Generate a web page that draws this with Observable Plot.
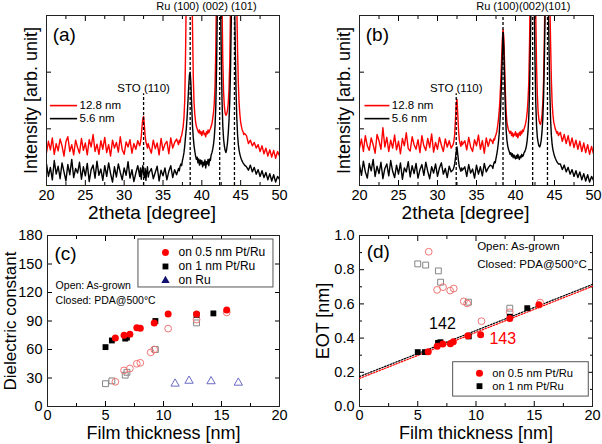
<!DOCTYPE html>
<html><head><meta charset="utf-8">
<script src="https://cdn.jsdelivr.net/npm/d3@7"></script>
<script src="https://cdn.jsdelivr.net/npm/@observablehq/plot@0.6"></script>
<style>
body{margin:0;background:#fff;}
#wrap{position:relative;width:602px;height:444px;overflow:hidden;background:#fff;}
.panel{position:absolute;}
.panel svg{overflow:visible;display:block;}
</style></head><body><div id="wrap"></div>
<script>
// ---------- XRD data (2theta grid shared by all four spectra) ----------
const twoTheta = [
20,20.25,20.5,20.75,21,21.25,21.5,21.75,22,22.25,22.5,22.75,23,23.25,23.5,23.75,24,24.25,24.5,24.75,25,25.25,25.5,25.75,26,26.25,26.5,26.75,27,27.25,27.5,27.75,28,28.25,28.5,28.75,29,29.25,29.5,29.75,30,30.25,30.5,30.75,31,31.25,31.5,31.75,
32,32.1,32.2,32.3,32.4,32.5,32.6,32.7,32.8,32.9,33,33.1,33.2,
33.5,33.75,34,34.25,34.5,34.75,35,35.25,35.5,35.75,36,36.25,36.5,36.75,
37,37.1,37.2,37.3,37.4,37.5,37.6,37.7,37.8,37.9,38,38.1,38.2,38.3,38.4,38.5,38.6,38.7,38.8,38.9,39,39.1,39.2,39.3,39.4,39.5,39.6,39.7,39.8,39.9,40,40.1,40.2,40.3,40.4,40.5,40.6,40.7,40.8,40.9,41,41.1,41.2,41.3,41.4,41.5,41.6,41.7,41.8,41.9,42,42.1,42.2,42.3,42.4,42.5,42.6,42.7,42.8,42.9,43,43.1,43.2,43.3,43.4,43.5,43.6,43.7,43.8,43.9,44,44.1,44.2,44.3,44.4,44.5,44.6,44.7,44.8,44.9,45,45.1,45.2,45.3,45.4,45.5,
45.75,46,46.25,46.5,46.75,47,47.25,47.5,47.75,48,48.25,48.5,48.75,49,49.25,49.5,49.75,50];

// panel (a): as-grown
const redA = [
58,78,63,84,55,74,61,82,70,52,77,86,60,72,54,80,67,57,83,62,75,54,81,68,90,60,73,55,79,64,85,58,72,52,80,66,76,59,86,63,55,77,68,81,57,74,64,79,
70,76,86,104,118,122,106,88,77,72,66,74,69,
57,80,65,75,54,83,62,73,78,56,84,66,76,82,
72,80,76,85,88,96,104,120,150,230,
340,380,400,420,430,430,420,380,280,190,
145,125,112,104,100,96,93,98,91,95,
88,94,97,90,92,86,95,91,98,93,
97,100,104,109,118,128,145,175,240,360,
420,440,450,450,440,400,320,220,165,140,
128,124,126,132,145,170,220,320,400,440,
450,450,440,420,380,320,240,180,145,125,
112,104,98,95,90,92,
88,74,80,70,76,66,72,60,70,56,66,52,63,50,62,48,60,52];
const blackA = [
38,16,32,10,44,20,34,12,40,24,8,37,19,46,14,30,22,41,11,33,17,39,7,28,36,13,43,18,29,9,35,16,40,21,6,33,15,38,23,10,31,18,42,13,28,7,22,35,
16,31,11,26,35,20,14,30,9,24,33,15,22,
30,12,23,34,8,27,17,31,10,25,35,14,28,19,
30,26,34,38,35,44,50,58,70,86,
100,120,145,172,195,200,178,140,105,84,
70,60,52,46,50,40,47,36,45,38,
44,33,41,36,45,31,42,38,46,35,
47,44,54,58,64,72,85,105,140,210,
320,400,430,420,340,230,150,105,82,70,
62,58,64,75,92,115,150,210,300,380,
420,410,340,250,170,120,90,72,62,55,
50,46,43,40,38,36,
33,27,36,24,32,20,28,16,26,14,23,10,21,8,19,6,16,11];

// panel (b): after PDA
const redB = [
66,82,60,88,70,62,84,72,57,90,79,64,102,68,85,60,80,66,89,63,78,56,83,70,93,65,61,86,72,64,81,58,88,70,62,83,67,91,59,76,64,85,71,60,82,68,79,66,
72,78,90,115,145,152,125,96,80,74,69,78,72,
79,63,85,68,60,81,70,89,64,79,57,84,69,82,
78,74,82,80,86,90,95,104,115,130,
150,180,215,255,275,262,215,165,130,112,
104,98,95,92,96,88,93,86,91,89,
95,87,92,84,90,94,88,96,91,98,
95,100,104,110,118,130,150,180,250,360,
420,450,460,455,430,380,300,210,160,130,
116,110,108,114,125,145,185,260,360,420,
450,455,440,400,330,250,185,145,125,112,
106,100,96,92,95,88,
94,78,90,74,88,70,84,67,80,64,78,60,75,58,72,55,69,56];
const blackB = [
37,18,43,24,13,39,26,46,16,34,21,41,12,30,38,17,44,25,14,36,20,40,11,31,24,42,15,35,21,39,13,28,37,18,41,25,12,33,22,38,16,31,40,20,30,14,34,24,
28,32,38,48,60,68,55,42,33,29,25,31,27,
33,16,37,22,29,13,36,20,33,17,39,24,31,36,
34,30,38,42,40,48,55,64,75,90,
112,140,180,225,270,245,185,135,98,80,
70,64,60,55,58,52,56,49,54,50,
47,53,48,55,50,46,52,49,55,51,
53,58,60,64,70,80,95,120,165,240,
330,400,420,400,320,220,145,105,85,76,
70,68,72,80,95,118,155,220,310,380,
410,400,330,240,165,115,88,72,63,57,
52,48,45,42,40,38,
38,28,36,24,32,20,28,16,26,14,24,10,21,8,19,6,16,9];

const xrdSeriesNames = ["12.8 nm", "5.6 nm"];
const ruPeaksA = [38.5, 42.3, 44.2];
const ruPeaksB = [38.4, 42.2, 44.1];
const stoPeakA = 32.5;
const stoPeakB = 32.4;

// ---------- (c) dielectric constant vs thickness ----------
const dkPdaPt05 = [[5.85,72],[6.6,75],[7.1,76],[7.7,83],[8.0,82.5],[9.2,88],[10.4,97.5],[12.85,97.5],[15.45,101.5]];
const dkPdaPt1 = [[5.0,62.5],[5.55,69.5],[6.7,71.5],[6.85,72.5],[9.3,90],[12.85,96.5],[14.3,98]];
const dkAsPt05 = [[5.85,26],[6.6,38],[7.1,40],[7.7,45],[8.0,46],[8.9,57],[9.2,60],[10.4,82],[12.85,91.5],[15.45,99]];
const dkAsPt1 = [[5.0,24],[5.55,27],[6.7,33],[6.85,36],[9.3,60],[12.85,88]];
const dkAsRu = [[11.0,24],[12.2,27],[14.1,26.5],[16.45,25]];

// ---------- (d) EOT vs thickness ----------
const eotPdaPt05 = [[5.9,0.32],[6.67,0.352],[7.15,0.365],[7.8,0.367],[8.05,0.378],[9.3,0.414],[10.4,0.42],[12.9,0.515],[15.4,0.595]];
const eotPdaPt1 = [[5.0,0.318],[5.62,0.318],[6.74,0.372],[6.95,0.376],[9.38,0.41],[12.9,0.525],[14.4,0.575]];
const eotAsPt05 = [[5.94,0.905],[6.66,0.682],[7.17,0.698],[7.78,0.678],[8.09,0.69],[8.95,0.615],[9.24,0.603],[10.47,0.499],[12.9,0.551],[15.5,0.608]];
const eotAsPt1 = [[5.0,0.834],[5.68,0.827],[6.77,0.793],[6.96,0.727],[9.35,0.61],[12.9,0.575]];
const fitPt1 = [[0,0.175],[20,0.714]];
const fitPt05 = [[0,0.164],[20,0.703]];
const kLabels = ["142", "143"];
const legendNames = ["on 0.5 nm Pt/Ru", "on 1 nm Pt/Ru", "on Ru"];

// ---------- helpers ----------
const FONT = "'Liberation Sans', Arial, sans-serif";
const RED = "#ff0000";
const OPEN_RED = "#f07575";
const OPEN_GRAY = "#858585";
const OPEN_BLUE = "#6a6ac4";
const blank = () => "";

function spectrum(vals) {
  const n = Math.min(vals.length, twoTheta.length);
  return d3.range(n).map(i => ({t: twoTheta[i], v: vals[i]}));
}
const pts = arr => arr.map(([x, y]) => ({x, y}));

// inward ticks: normal outward ticks shifted inside the frame by their own length
function frameTicks(xMaj, xMin, yMaj, yMin) {
  const m = [];
  const add = (fn, anchor, ticks, len) => {
    const sh = anchor === "bottom" ? {dy: -len} : anchor === "top" ? {dy: len} : anchor === "left" ? {dx: len} : {dx: -len};
    m.push(fn({anchor, ticks, tickSize: len, tickFormat: blank, label: null, ...sh}));
  };
  for (const a of ["bottom", "top"]) { add(Plot.axisX, a, xMaj, 5); if (xMin) add(Plot.axisX, a, xMin, 3); }
  for (const a of ["left", "right"]) { add(Plot.axisY, a, yMaj, 5); if (yMin) add(Plot.axisY, a, yMin, 3); }
  return m;
}

const baseStyle = {fontFamily: FONT, fontSize: "14.5px", color: "#000", background: "transparent", overflow: "visible"};

function xrdPanel(o) {
  return Plot.plot({
    width: o.width, height: 222,
    marginLeft: o.ml, marginRight: o.mr, marginTop: 15, marginBottom: 37,
    x: {domain: [20, 50]}, y: {domain: [0, 300]},
    style: baseStyle,
    marks: [
      Plot.line(spectrum(o.red), {x: "t", y: "v", stroke: RED, strokeWidth: 1.4, clip: true}),
      Plot.line(spectrum(o.black), {x: "t", y: "v", stroke: "#000", strokeWidth: 1.4, clip: true}),
      Plot.ruleX(o.ru, {y1: 0, y2: 300, stroke: "#000", strokeWidth: 1.3, strokeDasharray: "3,2"}),
      Plot.ruleX([o.sto], {y1: 0, y2: 162, stroke: "#000", strokeWidth: 1.3, strokeDasharray: "3,2"}),
      ...frameTicks(d3.range(20, 51, 5), d3.range(22.5, 50, 5), [100, 200], null),
      Plot.frame({stroke: "#222", strokeWidth: 1}),
      Plot.axisX({anchor: "bottom", ticks: d3.range(20, 51, 5), tickSize: 0, tickPadding: 4, label: null}),
      Plot.text([o.panel], {x: 20.8, y: 265, text: d => d, textAnchor: "start", fontSize: 19}),
      Plot.text([o.ruText], {x: o.ruX, y: 316, text: d => d, fontSize: 11}),
      Plot.text(["STO (110)"], {x: o.sto, y: 171, text: d => d, fontSize: 11.5}),
      Plot.ruleY([141], {x1: o.legX1, x2: o.legX2, stroke: RED, strokeWidth: 1.6}),
      Plot.ruleY([118], {x1: o.legX1, x2: o.legX2, stroke: "#000", strokeWidth: 1.6}),
      Plot.text([{n: xrdSeriesNames[0], y: 141}, {n: xrdSeriesNames[1], y: 118}],
        {x: o.legX2 + 0.25, y: "y", text: "n", textAnchor: "start", fontSize: 11.5}),
      Plot.text(["Intensity [arb. unit]"], {frameAnchor: "left", dx: o.ylabDx, rotate: -90, textAnchor: "middle", lineAnchor: "middle", text: d => d, fontSize: 18}),
      Plot.text(["2theta [degree]"], {frameAnchor: "bottom", dx: -11, dy: 27, textAnchor: "middle", lineAnchor: "middle", text: d => d, fontSize: 19})
    ]
  });
}

function mount(svg, left, top) {
  const d = document.createElement("div");
  d.className = "panel";
  d.style.left = left + "px";
  d.style.top = top + "px";
  d.appendChild(svg);
  document.getElementById("wrap").appendChild(d);
}

// (a)
mount(xrdPanel({width: 300, ml: 46, mr: 21, red: redA, black: blackA, ru: ruPeaksA, sto: stoPeakA,
  panel: "(a)", ruText: "Ru (100) (002) (101)", ruX: 40.6, legX1: 20.5, legX2: 24.0, ylabDx: -15}), 0, 0);
// (b)
mount(xrdPanel({width: 302, ml: 59, mr: 9, red: redB, black: blackB, ru: ruPeaksB, sto: stoPeakB,
  panel: "(b)", ruText: "Ru (100)(002)(101)", ruX: 41.0, legX1: 20.7, legX2: 23.9, ylabDx: -15}), 300, 0);

// (c)
mount(Plot.plot({
  width: 300, height: 222, marginLeft: 47, marginRight: 21, marginTop: 13, marginBottom: 38,
  x: {domain: [0, 20]}, y: {domain: [0, 180]},
  style: baseStyle,
  marks: [
    ...frameTicks([0, 5, 10, 15, 20], [2.5, 7.5, 12.5, 17.5], d3.range(0, 181, 30), null),
    Plot.frame({stroke: "#222", strokeWidth: 1}),
    Plot.axisX({anchor: "bottom", ticks: [0, 5, 10, 15, 20], tickSize: 0, tickPadding: 3, label: null}),
    Plot.axisY({anchor: "left", ticks: d3.range(0, 181, 30), tickSize: 0, tickPadding: 5, label: null}),
    Plot.dot(pts(dkAsRu), {x: "x", y: "y", symbol: "triangle", r: 3.1, stroke: OPEN_BLUE, strokeWidth: 1, fill: "none"}),
    Plot.dot(pts(dkAsPt1), {x: "x", y: "y", symbol: "square", r: 3.3, stroke: OPEN_GRAY, strokeWidth: 1, fill: "none"}),
    Plot.dot(pts(dkAsPt05), {x: "x", y: "y", symbol: "circle", r: 3.4, stroke: OPEN_RED, strokeWidth: 1, fill: "none"}),
    Plot.dot(pts(dkPdaPt1), {x: "x", y: "y", symbol: "square", r: 3.3, fill: "#000"}),
    Plot.dot(pts(dkPdaPt05), {x: "x", y: "y", symbol: "circle", r: 3.5, fill: RED}),
    Plot.text(["(c)"], {x: 0.6, y: 161, text: d => d, textAnchor: "start", fontSize: 19}),
    Plot.text(["Open: As-grown", "Closed: PDA@500°C"], {x: 0.7, y: (d, i) => [127.4, 111.6][i], text: d => d, textAnchor: "start", fontSize: 10.5}),
    Plot.rect([0], {x1: 7.84, x2: 19.48, y1: 125.3, y2: 175.8, fill: "#fff", stroke: "#555", strokeWidth: 1}),
    Plot.dot([162], {x: 10.17, y: d => d, symbol: "circle", r: 3.5, fill: RED}),
    Plot.dot([147.4], {x: 10.17, y: d => d, symbol: "square", r: 3.3, fill: "#000"}),
    Plot.dot([132.6], {x: 10.17, y: d => d, symbol: "triangle", r: 3.1, fill: "#101070"}),
    Plot.text(legendNames, {x: 11.3, y: (d, i) => [162, 147.4, 132.6][i], text: d => d, textAnchor: "start", fontSize: 12}),
    Plot.text(["Dielectric constant"], {frameAnchor: "left", dx: -37, rotate: -90, textAnchor: "middle", lineAnchor: "middle", text: d => d, fontSize: 17}),
    Plot.text(["Film thickness [nm]"], {frameAnchor: "bottom", dy: 27, textAnchor: "middle", lineAnchor: "middle", text: d => d, fontSize: 18})
  ]
}), 0, 222);

// (d)
mount(Plot.plot({
  width: 302, height: 222, marginLeft: 59, marginRight: 10, marginTop: 13, marginBottom: 38,
  x: {domain: [0, 20]}, y: {domain: [0, 1]},
  style: baseStyle,
  marks: [
    ...frameTicks([0, 5, 10, 15, 20], [2.5, 7.5, 12.5, 17.5], [0, 0.2, 0.4, 0.6, 0.8, 1.0], [0.1, 0.3, 0.5, 0.7, 0.9]),
    Plot.frame({stroke: "#222", strokeWidth: 1}),
    Plot.axisX({anchor: "bottom", ticks: [0, 5, 10, 15, 20], tickSize: 0, tickPadding: 3, label: null}),
    Plot.axisY({anchor: "left", ticks: [0, 0.2, 0.4, 0.6, 0.8, 1.0], tickSize: 0, tickPadding: 5, tickFormat: d3.format(".1f"), label: null}),
    Plot.line(pts(fitPt1), {x: "x", y: "y", stroke: "#000", strokeWidth: 1.2, strokeDasharray: "1.5,1.5"}),
    Plot.line(pts(fitPt05), {x: "x", y: "y", stroke: RED, strokeWidth: 1.2, strokeDasharray: "1.5,1.5"}),
    Plot.dot(pts(eotAsPt1), {x: "x", y: "y", symbol: "square", r: 3.3, stroke: OPEN_GRAY, strokeWidth: 1, fill: "none"}),
    Plot.dot(pts(eotAsPt05), {x: "x", y: "y", symbol: "circle", r: 3.4, stroke: OPEN_RED, strokeWidth: 1, fill: "none"}),
    Plot.dot(pts(eotPdaPt1), {x: "x", y: "y", symbol: "square", r: 3.3, fill: "#000"}),
    Plot.dot(pts(eotPdaPt05), {x: "x", y: "y", symbol: "circle", r: 3.5, fill: RED}),
    Plot.text([kLabels[0]], {x: 7.12, y: 0.485, text: d => d, fontSize: 16, fill: "#000"}),
    Plot.text([kLabels[1]], {x: 12.3, y: 0.393, text: d => d, fontSize: 16, fill: RED}),
    Plot.text(["(d)"], {x: 0.62, y: 0.902, text: d => d, textAnchor: "start", fontSize: 19}),
    Plot.text(["Open: As-grown", "Closed: PDA@500°C"], {x: 10.1, y: (d, i) => [0.936, 0.834][i], text: d => d, textAnchor: "start", fontSize: 11.5}),
    Plot.rect([0], {x1: 8.04, x2: 19.68, y1: 0.058, y2: 0.259, fill: "#fff", stroke: "#555", strokeWidth: 1}),
    Plot.dot([0.195], {x: 10.3, y: d => d, symbol: "circle", r: 3.5, fill: RED}),
    Plot.dot([0.119], {x: 10.3, y: d => d, symbol: "square", r: 3.3, fill: "#000"}),
    Plot.text(legendNames.slice(0, 2), {x: 11.39, y: (d, i) => [0.195, 0.119][i], text: d => d, textAnchor: "start", fontSize: 11.2}),
    Plot.text(["EOT [nm]"], {frameAnchor: "left", dx: -36, rotate: -90, textAnchor: "middle", lineAnchor: "middle", text: d => d, fontSize: 18}),
    Plot.text(["Film thickness [nm]"], {frameAnchor: "bottom", dy: 27, textAnchor: "middle", lineAnchor: "middle", text: d => d, fontSize: 18})
  ]
}), 300, 222);
</script>
</body></html>
